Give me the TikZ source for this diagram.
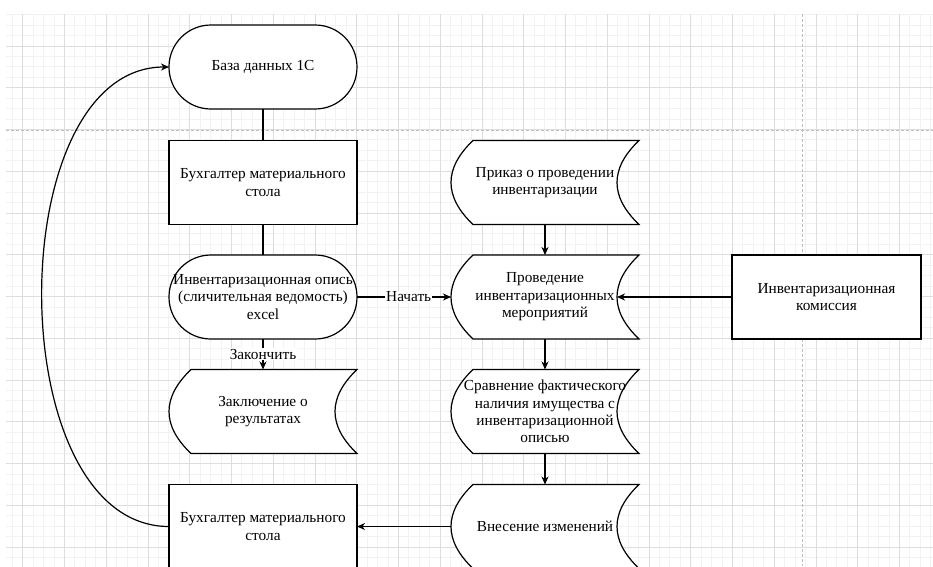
\documentclass[tikz,border=0pt]{standalone}
\usepackage{fontspec}
\setmainfont{Liberation Serif}
\usetikzlibrary{arrows.meta,calc}
\pgfdeclarelayer{gridlayer}
\pgfdeclarelayer{shapelayer}
\pgfsetlayers{gridlayer,shapelayer,main}
\definecolor{gridminor}{RGB}{242,242,242}
\definecolor{gridmajor}{RGB}{221,221,221}
\definecolor{pagebreak}{RGB}{190,190,190}
\newcommand\storepath[1]{%
  \path[shapeline] ($(#1.north west)+(22,0)$) -- (#1.north east)
    .. controls ($(#1.north east)+(-29.33,28)$) and ($(#1.south east)+(-29.33,-28)$) .. (#1.south east)
    -- ($(#1.south west)+(22,0)$)
    .. controls ($(#1.south west)+(-7.33,-28)$) and ($(#1.north west)+(-7.33,28)$) .. cycle;}
\begin{document}
\begin{tikzpicture}[x=1pt,y=-1pt,
  base/.style={minimum width=188, minimum height=84, inner sep=2pt, outer sep=0pt, align=center, font=\fontsize{15.3}{17.4}\selectfont},
  term/.style={base, draw=black, fill=white, line width=1.2pt, rounded corners=41.9},
  proc/.style={base, draw=black, fill=white, line width=1.2pt},
  store/.style={base},
  shapeline/.style={draw=black, fill=white, line width=1.2pt},
  conn/.style={line width=1.2pt, draw=black},
  arr/.style={conn, -{Stealth[length=8pt,width=7pt,inset=2.5pt]}},
  lbl/.style={fill=white, inner sep=1pt, font=\fontsize{15.3}{17.4}\selectfont},
  gminor/.style={draw=gridminor, line width=0.9pt},
  gmajor/.style={draw=gridmajor, line width=0.9pt},
  pbreak/.style={draw=pagebreak, line width=0.9pt, dash pattern=on 3pt off 2pt},
]
\useasboundingbox (0,0) rectangle (933,566);
\begin{pgfonlayer}{gridlayer}
  \fill[white] (0,0) rectangle (933,566);
  \begin{scope}
    \clip (6,14) rectangle (933,566);
    \foreach \i in {0,...,89} \draw[gminor] ({12.26+\i*10.4375},14) -- ++(0,560);
    \foreach \j in {0,...,53} \draw[gminor] (6,{14.69+\j*10.4375}) -- ++(935,0);
    \foreach \i in {0,...,22} \draw[gmajor] ({22.7+\i*41.75},14) -- ++(0,560);
    \foreach \j in {0,...,12} \draw[gmajor] (6,{46+\j*41.75}) -- ++(935,0);
    \draw[pbreak] (6,130) -- (933,130);
    \draw[pbreak] (802,14) -- (802,566);
  \end{scope}
\end{pgfonlayer}

\node[term] (db) at (263,67) {База данных 1С};
\node[proc] (b1) at (263,182.5) {Бухгалтер материального\\стола};
\node[term] (opis) at (263,297) {Инвентаризационная опись\\(сличительная ведомость)\\excel};
\node[store] (zk) at (263,411.5) {Заключение о\\результатах};
\node[proc] (b2) at (263,526.5) {Бухгалтер материального\\стола};
\node[store] (pr) at (545,182.5) {Приказ о проведении\\инвентаризации};
\node[store] (pv) at (545,297) {Проведение\\инвентаризационных\\мероприятий};
\node[store] (sr) at (545,411.5) {Сравнение фактического\\наличия имущества с\\инвентаризационной\\описью};
\node[store] (vn) at (545,526.5) {Внесение изменений};
\node[proc, minimum width=189] (kom) at (826.5,297) {Инвентаризационная\\комиссия};

\begin{pgfonlayer}{shapelayer}
  \storepath{zk}
  \storepath{pr}
  \storepath{pv}
  \storepath{sr}
  \storepath{vn}
\end{pgfonlayer}

\draw[conn] (db.south) -- (b1.north);
\draw[conn] (b1.south) -- (opis.north);
\draw[arr] (opis.south) -- node[lbl] {Закончить} (zk.north);
\draw[arr] (opis.east) -- node[lbl, pos=0.55] {Начать} (pv.west);
\draw[arr] (pr.south) -- (pv.north);
\draw[arr] (kom.west) -- ($(pv.east)+(-22,0)$);
\draw[arr] (pv.south) -- (sr.north);
\draw[arr] (sr.south) -- (vn.north);
\draw[arr] (vn.west) -- (b2.east);
\draw[arr] (b2.west) .. controls +(-169,0) and +(-169,0) .. (db.west);
\end{tikzpicture}
\end{document}
